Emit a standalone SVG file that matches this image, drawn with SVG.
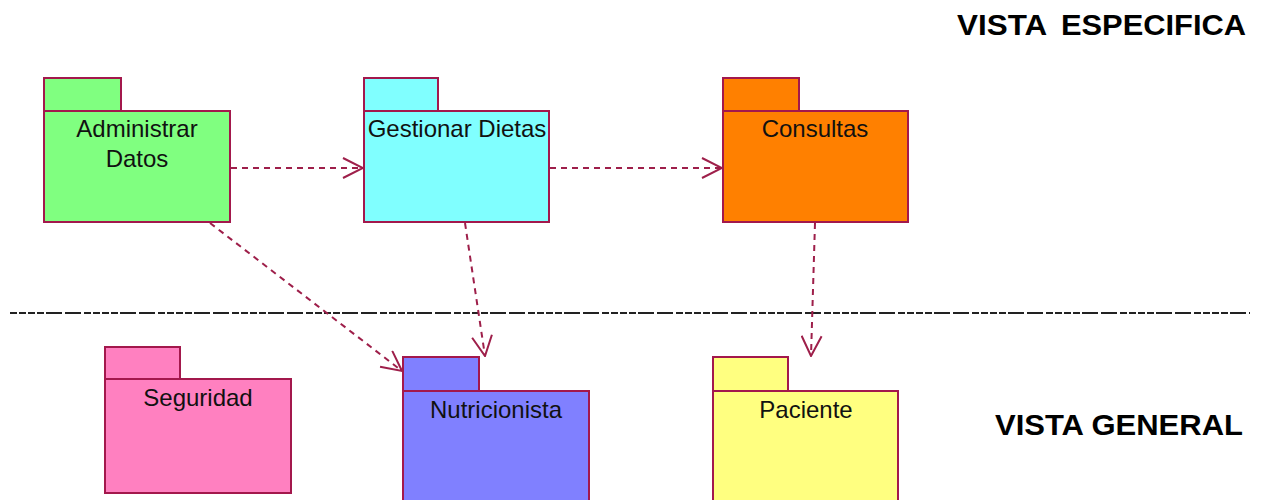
<svg xmlns="http://www.w3.org/2000/svg" width="1267" height="500" viewBox="0 0 1267 500">
<style>
.box{stroke:#a3184c;stroke-width:2}
.lbl{font-family:"Liberation Sans",Arial,sans-serif;font-size:24px;fill:#111;text-anchor:middle}
.title{font-family:"Liberation Sans",Arial,sans-serif;font-size:29px;font-weight:bold;fill:#000}
.dep{fill:none;stroke:#9e1f4a;stroke-width:2;stroke-dasharray:6 5}
.sep{fill:none;stroke:#222;stroke-width:2;stroke-dasharray:7 2 7 2 7 2 7 2 16 3 16 3}
</style>
<defs>
<marker id="open" viewBox="0 0 22 22" refX="21" refY="11" markerWidth="22" markerHeight="22" markerUnits="userSpaceOnUse" orient="auto">
<path d="M1,1 L21,11 L1,21" fill="none" stroke="#9e1f4a" stroke-width="2"/>
</marker>
</defs>
<rect width="1267" height="500" fill="#fff"/>
<g id="separator">
<line class="sep" x1="10" y1="313" x2="1250" y2="313"/>
</g>
<g id="titles">
<text class="title" y="35"><tspan x="957" textLength="89" lengthAdjust="spacingAndGlyphs">VISTA</tspan> <tspan x="1061" textLength="185" lengthAdjust="spacingAndGlyphs">ESPECIFICA</tspan></text>
<text class="title" x="995" y="435" style="font-size:30px" textLength="248" lengthAdjust="spacingAndGlyphs">VISTA GENERAL</text>
</g>
<g id="administrar-datos">
<rect class="box" x="44" y="78" width="77" height="33" fill="#80ff80"/>
<rect class="box" x="44" y="111" width="186" height="111" fill="#80ff80"/>
<text class="lbl" x="137" y="137">Administrar</text>
<text class="lbl" x="137" y="167">Datos</text>
</g>
<g id="gestionar-dietas">
<rect class="box" x="364" y="78" width="74" height="33" fill="#80ffff"/>
<rect class="box" x="364" y="111" width="185" height="111" fill="#80ffff"/>
<text class="lbl" x="457" y="137">Gestionar Dietas</text>
</g>
<g id="consultas">
<rect class="box" x="723" y="78" width="76" height="33" fill="#ff8000"/>
<rect class="box" x="723" y="111" width="185" height="111" fill="#ff8000"/>
<text class="lbl" x="815" y="137">Consultas</text>
</g>
<g id="seguridad">
<rect class="box" x="105" y="347" width="75" height="32" fill="#ff80c0"/>
<rect class="box" x="105" y="379" width="186" height="114" fill="#ff80c0"/>
<text class="lbl" x="198" y="406">Seguridad</text>
</g>
<g id="nutricionista">
<rect class="box" x="403" y="357" width="76" height="34" fill="#8080ff"/>
<rect class="box" x="403" y="391" width="186" height="115" fill="#8080ff"/>
<text class="lbl" x="496" y="418">Nutricionista</text>
</g>
<g id="paciente">
<rect class="box" x="713" y="357" width="75" height="34" fill="#ffff80"/>
<rect class="box" x="713" y="391" width="185" height="115" fill="#ffff80"/>
<text class="lbl" x="806" y="418">Paciente</text>
</g>
<g id="connectors">
<line class="dep" x1="231" y1="168" x2="363" y2="168" marker-end="url(#open)"/>
<line class="dep" x1="550" y1="168" x2="722" y2="168" marker-end="url(#open)"/>
<line class="dep" x1="210" y1="223" x2="402" y2="371" marker-end="url(#open)"/>
<line class="dep" x1="465" y1="223" x2="485" y2="356" marker-end="url(#open)"/>
<line class="dep" x1="815" y1="223" x2="811" y2="356" marker-end="url(#open)"/>
</g>
</svg>
